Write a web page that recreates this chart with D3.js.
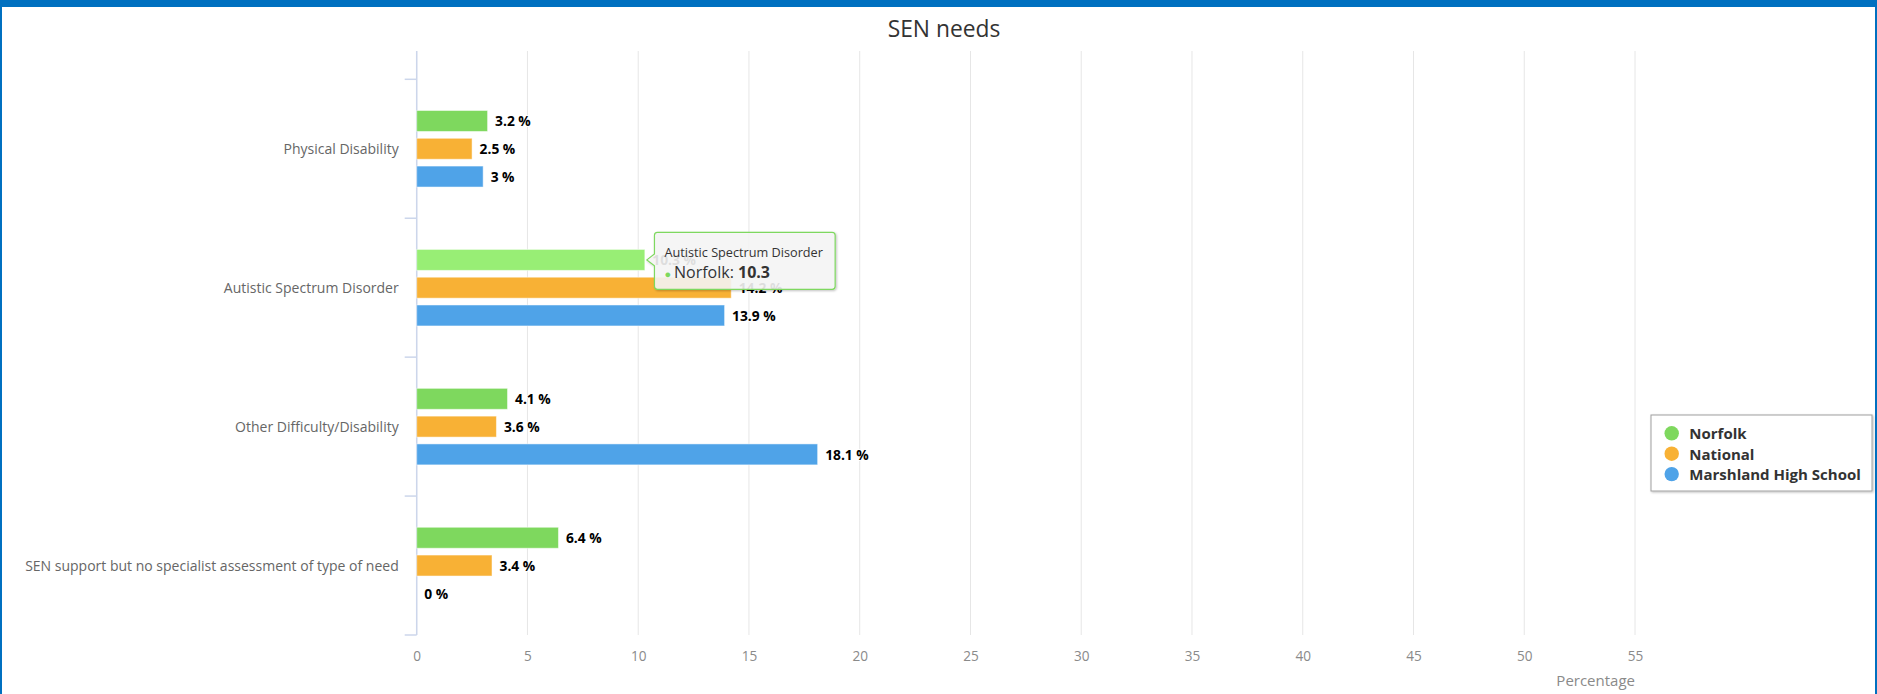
<!DOCTYPE html>
<html>
<head>
<meta charset="utf-8">
<script src="https://cdn.jsdelivr.net/npm/d3@7"></script>
<style>
  body { margin: 0; background: #fff; }
  svg { display: block; font-family: "Open Sans", "Noto Sans", sans-serif; }
</style>
</head>
<body>
<svg id="chart" width="1877" height="694"></svg>
<script>
// chart data
const categories = [
  'Physical Disability',
  'Autistic Spectrum Disorder',
  'Other Difficulty/Disability',
  'SEN support but no specialist assessment of type of need'
];
const seriesNames = ['Norfolk', 'National', 'Marshland High School'];
const norfolkValues = [3.2, 10.3, 4.1, 6.4];
const nationalValues = [2.5, 14.2, 3.6, 3.4];
const schoolValues = [3, 13.9, 18.1, 0];
const xTicks = [0, 5, 10, 15, 20, 25, 30, 35, 40, 45, 50, 55];

const seriesColors = ['#7ed85e', '#f8b135', '#4fa3e8'];
const hoverColor = '#98ee75';
const hovered = { series: 0, cat: 1 };

const svg = d3.select('#chart');
const W = 1877, H = 694;

// plot box (matches reference layout)
const plot = { left: 416.7, right: 1635, top: 51, bottom: 635, catTop: 79.3 };

// shadow filter for legend / tooltip
const defs = svg.append('defs');
const shadow = defs.append('filter').attr('id', 'shadow')
  .attr('x', '-10%').attr('y', '-10%').attr('width', '130%').attr('height', '140%');
shadow.append('feDropShadow')
  .attr('dx', 1).attr('dy', 1).attr('stdDeviation', 1.2)
  .attr('flood-color', '#000').attr('flood-opacity', 0.25);

// frame
svg.append('rect').attr('width', W).attr('height', H).attr('fill', '#fff');
svg.append('rect').attr('x', 0).attr('y', 0).attr('width', W).attr('height', 7).attr('fill', '#0070c0');
svg.append('rect').attr('x', 0).attr('y', 0).attr('width', 2).attr('height', H).attr('fill', '#0070c0');
svg.append('rect').attr('x', W - 2).attr('y', 0).attr('width', 2).attr('height', H).attr('fill', '#0070c0');

// title
svg.append('text')
  .attr('x', 944).attr('y', 37)
  .attr('text-anchor', 'middle')
  .style('font-size', '22.8px')
  .style('fill', '#333')
  .text('SEN needs');

// scales
const x = d3.scaleLinear().domain([0, 55]).range([plot.left, plot.right]);
const y = d3.scaleBand().domain(categories).range([plot.catTop, plot.bottom]);
const bw = y.bandwidth();
const yInner = d3.scaleBand().domain(seriesNames)
  .range([bw * 0.2, bw * 0.8])
  .paddingInner(0.245).paddingOuter(0.1225);

// grid lines
svg.append('g').selectAll('line')
  .data(xTicks)
  .join('line')
  .attr('x1', d => x(d)).attr('x2', d => x(d))
  .attr('y1', plot.top).attr('y2', plot.bottom)
  .attr('stroke', '#e6e6e6').attr('stroke-width', 1);

// x axis labels
const xAxis = d3.axisBottom(x).tickValues(xTicks).tickSize(0).tickPadding(16);
const gx = svg.append('g')
  .attr('transform', `translate(0,${plot.bottom})`)
  .call(xAxis);
gx.select('.domain').remove();
gx.selectAll('text')
  .style('font-family', '"Open Sans", sans-serif')
  .style('font-size', '13.6px')
  .style('fill', '#8a8a8a');

svg.append('text')
  .attr('x', plot.right).attr('y', 686)
  .attr('text-anchor', 'end')
  .style('font-size', '15px')
  .style('fill', '#8a8a8a')
  .text('Percentage');

// category axis
const gy = svg.append('g').attr('transform', `translate(${plot.left},0)`);
gy.append('line')
  .attr('x1', 0).attr('x2', 0)
  .attr('y1', plot.top).attr('y2', plot.bottom)
  .attr('stroke', '#ccd6eb').attr('stroke-width', 1.5);
const boundaries = categories.map(c => y(c)).concat([y(categories[categories.length - 1]) + bw]);
gy.selectAll('line.tick')
  .data(boundaries)
  .join('line')
  .attr('class', 'tick')
  .attr('x1', -12).attr('x2', 0)
  .attr('y1', d => d).attr('y2', d => d)
  .attr('stroke', '#ccd6eb').attr('stroke-width', 1.5);
gy.selectAll('text.cat')
  .data(categories)
  .join('text')
  .attr('class', 'cat')
  .attr('x', -18)
  .attr('y', d => y(d) + bw / 2)
  .attr('text-anchor', 'end')
  .attr('dominant-baseline', 'central')
  .style('font-size', '14px')
  .style('fill', '#666')
  .text(d => d);

// bars
const seriesData = [norfolkValues, nationalValues, schoolValues];
const rows = [];
seriesData.forEach((vals, si) => {
  vals.forEach((v, ci) => {
    rows.push({ series: seriesNames[si], si, cat: categories[ci], ci, value: v });
  });
});

const barG = svg.append('g');
barG.selectAll('rect')
  .data(rows.filter(d => d.value > 0))
  .join('rect')
  .attr('x', x(0))
  .attr('y', d => y(d.cat) + yInner(d.series))
  .attr('width', d => x(d.value) - x(0))
  .attr('height', yInner.bandwidth())
  .attr('fill', d => (d.si === hovered.series && d.ci === hovered.cat) ? hoverColor : seriesColors[d.si])
  .attr('stroke', '#fff')
  .attr('stroke-opacity', 0.5)
  .attr('stroke-width', 1);

// data labels
svg.append('g').selectAll('text')
  .data(rows)
  .join('text')
  .attr('x', d => x(d.value) + 7.5)
  .attr('y', d => y(d.cat) + yInner(d.series) + yInner.bandwidth() / 2)
  .attr('dominant-baseline', 'central')
  .style('font-size', '13.8px')
  .style('font-weight', '700')
  .style('fill', '#000')
  .style('stroke', '#fff')
  .style('stroke-width', 2)
  .style('stroke-linejoin', 'round')
  .style('paint-order', 'stroke')
  .text(d => d.value + ' %');

// legend
const lg = svg.append('g').attr('transform', 'translate(1651,415)');
lg.append('rect')
  .attr('width', 221).attr('height', 76)
  .attr('fill', '#fff')
  .attr('stroke', '#a0a0a0').attr('stroke-width', 1)
  .style('filter', 'url(#shadow)');
const items = lg.selectAll('g.item')
  .data(seriesNames)
  .join('g')
  .attr('class', 'item')
  .attr('transform', (d, i) => `translate(0,${18.3 + i * 20.4})`);
items.append('circle')
  .attr('cx', 20.7).attr('cy', 0).attr('r', 7.2)
  .attr('fill', (d, i) => seriesColors[i]);
items.append('text')
  .attr('x', 38.3).attr('y', 0)
  .attr('dominant-baseline', 'central')
  .style('font-size', '15px')
  .style('font-weight', '700')
  .style('fill', '#333')
  .text(d => d);

// hover tooltip on the Norfolk / Autistic Spectrum Disorder bar
const hv = norfolkValues[hovered.cat];
const tipX = x(hv) + 2;
const tipY = y(categories[hovered.cat]) + yInner(seriesNames[hovered.series]) + yInner.bandwidth() / 2;
const bx = tipX + 7.6, by = 232.3, bwid = 180.7, bh = 57, r = 3;
const tipPath = [
  `M${bx + r},${by}`,
  `H${bx + bwid - r}`, `Q${bx + bwid},${by} ${bx + bwid},${by + r}`,
  `V${by + bh - r}`, `Q${bx + bwid},${by + bh} ${bx + bwid - r},${by + bh}`,
  `H${bx + r}`, `Q${bx},${by + bh} ${bx},${by + bh - r}`,
  `V${tipY + 6}`, `L${tipX},${tipY}`, `L${bx},${tipY - 6}`,
  `V${by + r}`, `Q${bx},${by} ${bx + r},${by}`, 'Z'
].join(' ');
const tip = svg.append('g');
tip.append('path')
  .attr('d', tipPath)
  .attr('fill', 'rgba(247,247,247,0.88)')
  .attr('stroke', seriesColors[hovered.series])
  .attr('stroke-width', 1.2)
  .style('filter', 'url(#shadow)');
tip.append('text')
  .attr('x', bx + 10).attr('y', 257)
  .style('font-size', '12.7px')
  .style('fill', '#333')
  .text(categories[hovered.cat]);
const line2 = tip.append('text')
  .attr('x', bx + 10).attr('y', 278)
  .style('font-size', '16px')
  .style('fill', '#333');
line2.append('tspan').style('fill', seriesColors[hovered.series]).style('font-size', '11px').text('\u25CF ');
line2.append('tspan').text(seriesNames[hovered.series] + ': ');
line2.append('tspan').style('font-weight', '700').text(hv);
</script>
</body>
</html>
